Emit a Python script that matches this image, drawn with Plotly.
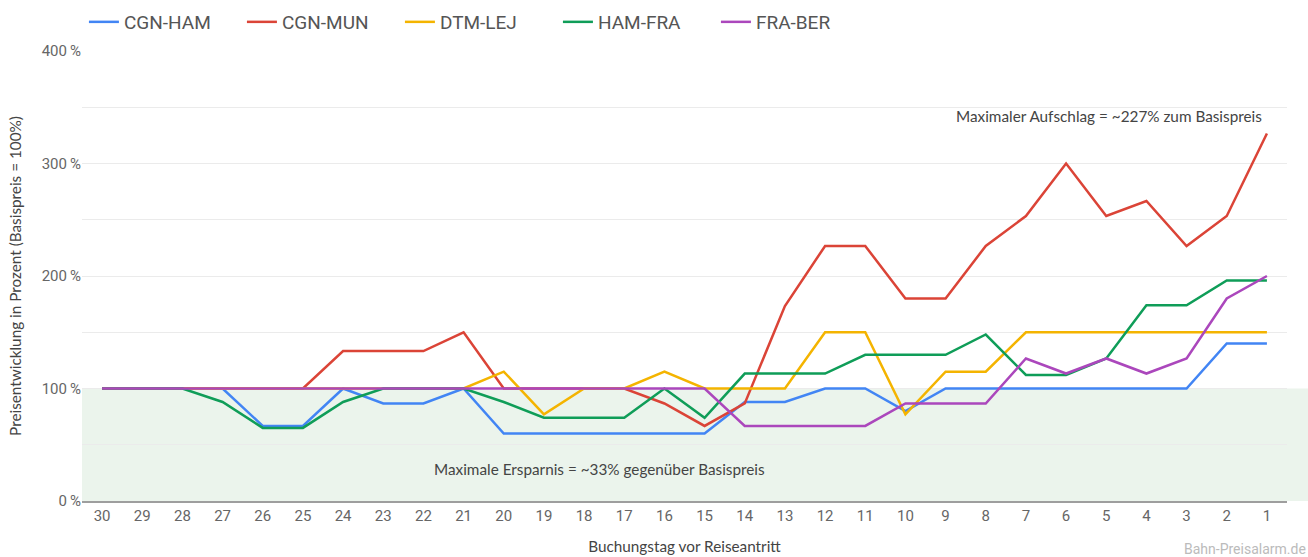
import plotly.graph_objects as go

days = [str(d) for d in range(30, 0, -1)]

cgn_ham = [100, 100, 100, 100, 66.7, 66.7, 100, 86.7, 86.7, 100, 60, 60, 60, 60, 60, 60,
           88, 88, 100, 100, 80, 100, 100, 100, 100, 100, 100, 100, 140, 140]
cgn_mun = [100, 100, 100, 100, 100, 100, 133.3, 133.3, 133.3, 150, 100, 100, 100, 100, 86.7, 66.7,
           86.7, 173.3, 226.7, 226.7, 180, 180, 226.7, 253.3, 300, 253.3, 266.7, 226.7, 253.3, 326.7]
dtm_lej = [100, 100, 100, 100, 100, 100, 100, 100, 100, 100, 115, 77, 100, 100, 115, 100,
           100, 100, 150, 150, 77, 115, 115, 150, 150, 150, 150, 150, 150, 150]
ham_fra = [100, 100, 100, 88, 65, 65, 88, 100, 100, 100, 88, 74, 74, 74, 100, 74,
           113.3, 113.3, 113.3, 130, 130, 130, 148, 112, 112, 126.7, 174, 174, 196, 196]
fra_ber = [100, 100, 100, 100, 100, 100, 100, 100, 100, 100, 100, 100, 100, 100, 100, 100,
           66.7, 66.7, 66.7, 66.7, 86.7, 86.7, 86.7, 126.7, 113.3, 126.7, 113.3, 126.7, 180, 200]

series = [
    ("CGN-HAM", cgn_ham, "#4285F4"),
    ("CGN-MUN", cgn_mun, "#DB4437"),
    ("DTM-LEJ", dtm_lej, "#F4B400"),
    ("HAM-FRA", ham_fra, "#0F9D58"),
    ("FRA-BER", fra_ber, "#AB47BC"),
]

y_ticks = [0, 100, 200, 300, 400]
y_ticktext = [f"{v}\u2009%" for v in y_ticks]

fig = go.Figure()
for name, vals, col in series:
    fig.add_trace(go.Scatter(x=days, y=vals, name=name, mode="lines",
                             line=dict(color=col, width=2.5)))

L, R, T, B = 82, 21, 51, 56
W, H = 1308, 557
pw = W - L - R
ph = H - T - B

fig.add_shape(type="rect", xref="paper", yref="y", x0=0, x1=(W - L) / pw, y0=0, y1=100,
              fillcolor="#ebf4ec", line_width=0, layer="below")

fig.add_annotation(text="Maximaler Aufschlag = ~227% zum Basispreis", xref="paper", yref="y",
                   x=(1264 - L) / pw, y=342, xanchor="right", yanchor="middle", showarrow=False,
                   font=dict(family="Lato", size=15.3, color="#444"))
fig.add_annotation(text="Maximale Ersparnis = ~33% gegenüber Basispreis", xref="paper", yref="y",
                   x=(599 - L) / pw, y=28.5, xanchor="center", yanchor="middle", showarrow=False,
                   font=dict(family="Lato", size=15.3, color="#444"))
fig.add_annotation(text="Bahn-Preisalarm.de", xref="paper", yref="paper",
                   x=(W - L) / pw, y=-(549 - (H - B)) / ph, xanchor="right", yanchor="middle",
                   showarrow=False, font=dict(family="Roboto", size=14, color="#bbbbbb"))

fig.update_layout(
    width=W, height=H,
    margin=dict(l=L, r=R, t=T, b=B, autoexpand=False),
    paper_bgcolor="white", plot_bgcolor="rgba(0,0,0,0)",
    font=dict(family="Roboto", color="#666"),
    showlegend=True,
    legend=dict(orientation="h", x=0.0016, xanchor="left", y=1 + (T - 22) / ph, yanchor="middle",
                font=dict(family="Roboto", size=19, color="#555"),
                entrywidth=113, entrywidthmode="pixels", bgcolor="rgba(0,0,0,0)"),
    xaxis=dict(type="category", range=[-0.5, 29.5], showgrid=False, showline=True, automargin=False,
               linecolor="#9e9e9e", linewidth=2, ticks="", tickfont=dict(size=15, color="#666"),
               title=dict(text="Buchungstag vor Reiseantritt", standoff=17,
                          font=dict(family="Lato", size=15.3, color="#444"))),
    yaxis=dict(range=[0, 400], tickvals=y_ticks, ticktext=y_ticktext, showgrid=True, automargin=False,
               gridcolor="#ebebeb", gridwidth=1, zeroline=False, showline=False,
               tickfont=dict(size=15, color="#666"), ticks="",
               minor=dict(dtick=50, tick0=0, showgrid=True, gridcolor="#ebebeb", gridwidth=1),
               title=dict(text="Preisentwicklung in Prozent (Basispreis = 100%)", standoff=16,
                          font=dict(family="Lato", size=15.3, color="#444"))),
)

fig.write_html("out.html", config={"displayModeBar": False},
               post_script="document.body.style.margin='0';")
